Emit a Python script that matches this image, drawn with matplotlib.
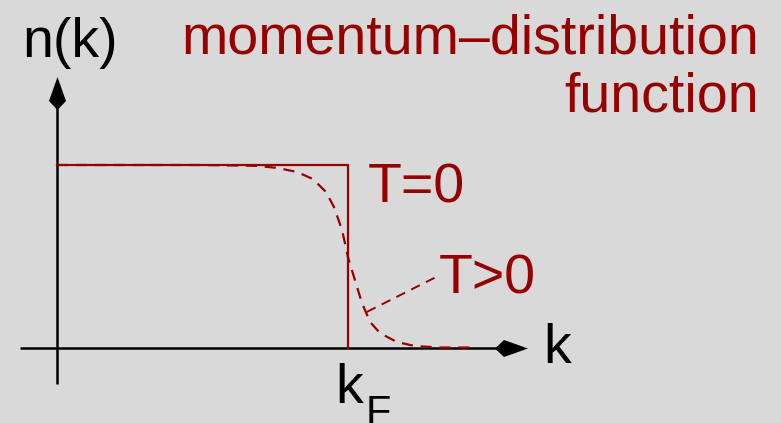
import numpy as np
import matplotlib
matplotlib.use('Agg')
import matplotlib.pyplot as plt
from matplotlib.path import Path

plt.rcParams['font.family'] = ['Liberation Sans', 'DejaVu Sans']

# T = 0 step function n(k) (k in units of k_F)
k_t0 = [0.0, 1.0, 1.0]
n_t0 = [1.0, 1.0, 0.0]

# T > 0 smeared distribution
k_t1 = [0.0, 0.49, 0.628, 0.686, 0.755, 0.823, 0.878, 0.923, 0.950, 0.978,
        0.998, 1.022, 1.046, 1.074, 1.108, 1.166, 1.228, 1.314, 1.434]
n_t1 = [1.0, 1.0, 0.997, 0.995, 0.984, 0.962, 0.923, 0.852, 0.770, 0.644,
        0.496, 0.370, 0.244, 0.140, 0.079, 0.030, 0.008, 0.0, 0.0]

# pointer from label "T>0" to the curve
k_ptr = [1.063, 1.314]
n_ptr = [0.195, 0.397]

# axes extents
k_axis = [-0.127, 1.52]
n_axis = [-0.2, 1.38]

red = '#960000'
bg = '#d9d9d9'

W, H = 781, 423
x0, sx = 57.0, 291.5
y0, sy = 347.5, 182.5


def px(x, y):
    # pixel position -> data coords
    return (x - x0) / sx, (y0 - y) / sy


fig = plt.figure(figsize=(W / 100, H / 100), dpi=100, facecolor=bg)
ax = fig.add_axes([0, 0, 1, 1])
ax.set_facecolor(bg)
ax.set_xlim((0 - x0) / sx, (W - x0) / sx)
ax.set_ylim((y0 - H) / sy, y0 / sy)
ax.axis('off')

# coordinate axes
ax.plot(k_axis, [0, 0], color='black', lw=1.8, solid_capstyle='butt', zorder=1)
ax.plot([0, 0], n_axis, color='black', lw=1.8, solid_capstyle='butt', zorder=1)

# kite-shaped arrow heads
kite_r = Path([(16.5, 0), (-7.5, 8.5), (-16.5, 0), (-7.5, -8.5), (16.5, 0)])
kite_u = Path([(0, 16.5), (8.5, -7.5), (0, -16.5), (-8.5, -7.5), (0, 16.5)])
ms = 33 * 72 / 100
hx, hy = px(511.5, 348)
ax.plot([hx], [hy], marker=kite_r, ms=ms, color='black', mew=0, zorder=3)
vx, vy = px(57, 93.5)
ax.plot([vx], [vy], marker=kite_u, ms=ms, color='black', mew=0, zorder=3)

# distributions
ax.plot(k_t0, n_t0, color=red, lw=1.6, zorder=2)
ax.plot(k_t1, n_t1, color=red, lw=1.6, ls=(0, (5, 3.5)), zorder=2)
ax.plot(k_ptr, n_ptr, color=red, lw=1.4, ls=(0, (5, 3.5)), zorder=2)

fs = 40
ax.text(*px(22, 57), 'n(k)', fontsize=fs, color='black', ha='left', va='baseline')
ax.text(*px(759, 54), 'momentum\u2013distribution', fontsize=fs, color=red,
        ha='right', va='baseline')
ax.text(*px(759, 111), 'function', fontsize=fs, color=red, ha='right', va='baseline')
ax.text(*px(368, 202), 'T=0', fontsize=fs, color=red, ha='left', va='baseline')
ax.text(*px(439, 293), 'T>0', fontsize=fs, color=red, ha='left', va='baseline')
ax.text(*px(543, 363), 'k', fontsize=fs, color='black', ha='left', va='baseline')
ax.text(*px(335, 403), 'k', fontsize=fs, color='black', ha='left', va='baseline')
ax.text(*px(366, 425), 'F', fontsize=30, color='black', ha='left', va='baseline')

fig.savefig('out.png', dpi=100, facecolor=bg)
